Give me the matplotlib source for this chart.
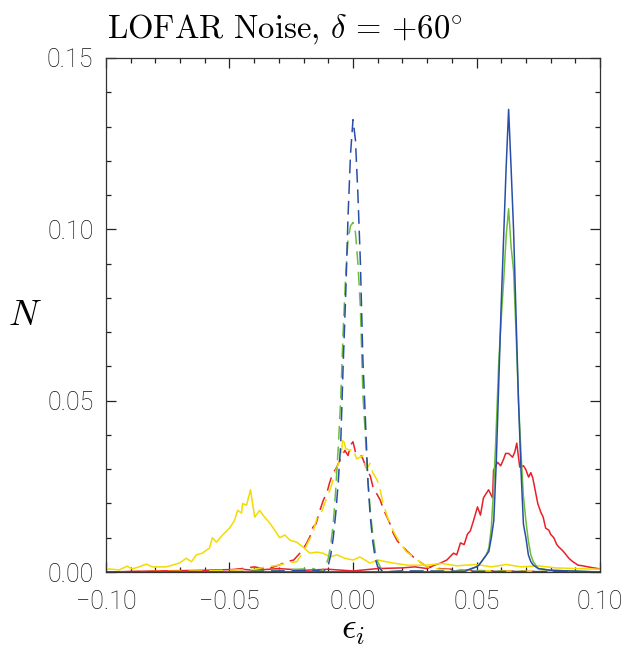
"""LOFAR noise histograms of epsilon_i at declination +60 deg"""
import matplotlib
matplotlib.use("Agg")
import matplotlib.pyplot as plt
from matplotlib.ticker import MultipleLocator, FuncFormatter

plt.rcParams['mathtext.fontset'] = 'cm'

# --- data ---
# red, solid: broad peak near +0.065
red_solid_x = [-0.100, -0.080, -0.060, -0.045, -0.040, -0.030, -0.020, -0.010, 0.000, 0.010,
               0.020, 0.025, 0.030, 0.033, 0.0354, 0.038, 0.0407, 0.042, 0.0435, 0.045,
               0.0463, 0.0475, 0.0488, 0.0504, 0.0516, 0.0528, 0.0540, 0.0549, 0.0565, 0.0569,
               0.0585, 0.0598, 0.061, 0.0618, 0.063, 0.0646, 0.0655, 0.0663, 0.0675, 0.069,
               0.0699, 0.0711, 0.072, 0.0728, 0.0748, 0.0760, 0.077, 0.0780, 0.0793, 0.080,
               0.0813, 0.0825, 0.0833, 0.0845, 0.0854, 0.0874, 0.089, 0.0911, 0.093, 0.0951,
               0.0975, 0.0992, 0.100]
red_solid_y = [0.000, 0.0003, 0.0005, 0.0008, 0.0005, 0.0010, 0.0005, 0.0008, 0.0003, 0.0010,
               0.0012, 0.0015, 0.0010, 0.0020, 0.0026, 0.0035, 0.0055, 0.0050, 0.0085, 0.0080,
               0.011, 0.012, 0.015, 0.019, 0.0166, 0.0216, 0.023, 0.024, 0.0216, 0.0297,
               0.032, 0.031, 0.033, 0.0346, 0.0346, 0.0335, 0.035, 0.0376, 0.0306, 0.031,
               0.030, 0.0277, 0.029, 0.0274, 0.020, 0.0175, 0.016, 0.0128, 0.0122, 0.011,
               0.010, 0.008, 0.0073, 0.0065, 0.0058, 0.004, 0.003, 0.002, 0.0018, 0.0015,
               0.0012, 0.001, 0.0008]

# red, dashed: broad peak at 0
red_dash_x = [-0.100, -0.070, -0.050, -0.045, -0.040, -0.035, -0.030, -0.027, -0.024, -0.0215,
              -0.020, -0.0187, -0.017, -0.0163, -0.015, -0.0134, -0.012, -0.0106, -0.0095, -0.0081,
              -0.007, -0.0053, -0.0043, -0.0033, -0.002, -0.001, 0.000, 0.001, 0.0028, 0.004,
              0.0057, 0.007, 0.0081, 0.0095, 0.011, 0.0125, 0.0138, 0.015, 0.0163, 0.018,
              0.0203, 0.022, 0.0244, 0.027, 0.030, 0.035, 0.040, 0.050, 0.070, 0.100]
red_dash_y = [0.000, 0.0003, 0.0005, 0.001, 0.0015, 0.0008, 0.002, 0.003, 0.0035, 0.0055,
              0.007, 0.0085, 0.011, 0.013, 0.014, 0.018, 0.021, 0.023, 0.026, 0.029,
              0.030, 0.0326, 0.034, 0.0355, 0.034, 0.037, 0.038, 0.035, 0.0347, 0.033,
              0.0297, 0.028, 0.0248, 0.023, 0.021, 0.018, 0.016, 0.014, 0.0113, 0.009,
              0.0073, 0.006, 0.0044, 0.003, 0.0015, 0.001, 0.0008, 0.0004, 0.0002, 0.000]

# yellow, dashed: broad peak at 0
yel_dash_x = [-0.100, -0.060, -0.040, -0.035, -0.030, -0.027, -0.025, -0.0228, -0.020, -0.018,
              -0.0165, -0.0146, -0.013, -0.0115, -0.0093, -0.008, -0.0065, -0.005, -0.004, -0.003,
              -0.0012, 0.000, 0.0015, 0.0028, 0.004, 0.0055, 0.0069, 0.008, 0.0098, 0.011,
              0.0122, 0.0135, 0.015, 0.017, 0.019, 0.0215, 0.0244, 0.027, 0.030, 0.035,
              0.045, 0.060, 0.100]
yel_dash_y = [0.000, 0.0003, 0.0008, 0.0015, 0.002, 0.0026, 0.0028, 0.003, 0.006, 0.009,
              0.011, 0.0157, 0.017, 0.020, 0.024, 0.027, 0.0306, 0.033, 0.0393, 0.036,
              0.0355, 0.036, 0.033, 0.0335, 0.034, 0.030, 0.0317, 0.029, 0.0268, 0.024,
              0.020, 0.017, 0.014, 0.011, 0.0085, 0.006, 0.0044, 0.003, 0.0015, 0.0008,
              0.0005, 0.0003, 0.000]

# yellow, solid: skewed peak near -0.042 with long tail
yel_solid_x = [-0.100, -0.0988, -0.0947, -0.0915, -0.0894, -0.0866, -0.0837, -0.0813, -0.0785, -0.0756,
               -0.0732, -0.0703, -0.0675, -0.0654, -0.0634, -0.061, -0.0581, -0.0569, -0.0553, -0.0528,
               -0.050, -0.048, -0.0467, -0.0451, -0.0447, -0.0431, -0.0415, -0.0398, -0.0378, -0.0358,
               -0.0337, -0.0317, -0.0297, -0.0276, -0.0256, -0.0228, -0.0203, -0.0175, -0.0146, -0.0122,
               -0.0093, -0.0065, -0.0033, 0.000, 0.0028, 0.0069, 0.010, 0.0163, 0.022, 0.030,
               0.036, 0.042, 0.050, 0.056, 0.062, 0.068, 0.075, 0.082, 0.090, 0.100]
yel_solid_y = [0.0006, 0.0009, 0.0006, 0.0017, 0.0009, 0.0015, 0.0023, 0.0015, 0.0015, 0.0015,
               0.002, 0.0026, 0.004, 0.003, 0.005, 0.0055, 0.007, 0.010, 0.0087, 0.0108,
               0.0128, 0.015, 0.018, 0.0172, 0.020, 0.0195, 0.024, 0.016, 0.018, 0.016,
               0.0143, 0.0122, 0.010, 0.0108, 0.0093, 0.0087, 0.0073, 0.0055, 0.0058, 0.0055,
               0.0044, 0.005, 0.004, 0.0035, 0.0044, 0.0026, 0.0035, 0.0026, 0.002, 0.002,
               0.0025, 0.0018, 0.0022, 0.0015, 0.0022, 0.0015, 0.0018, 0.0012, 0.0010, 0.0008]

# blue, dashed: narrow peak at 0
blue_dash_x = [-0.100, -0.050, -0.015, -0.012, -0.011, -0.010, -0.009, -0.008, -0.007, -0.006,
               -0.005, -0.004, -0.003, -0.002, -0.001, 0.000, 0.001, 0.002, 0.003, 0.004,
               0.005, 0.006, 0.007, 0.008, 0.009, 0.010, 0.011, 0.012, 0.020, 0.100]
blue_dash_y = [0.000, 0.000, 0.0005, 0.000, 0.001, 0.002, 0.005, 0.010, 0.017, 0.026,
               0.037, 0.060, 0.080, 0.104, 0.122, 0.132, 0.126, 0.110, 0.090, 0.062,
               0.045, 0.027, 0.016, 0.009, 0.004, 0.0015, 0.001, 0.000, 0.0003, 0.000]

# green, dashed: narrow peak at 0
green_dash_x = [-0.100, -0.050, -0.016, -0.013, -0.012, -0.011, -0.010, -0.009, -0.008, -0.007,
                -0.006, -0.005, -0.004, -0.003, -0.002, -0.001, 0.000, 0.001, 0.002, 0.003,
                0.004, 0.005, 0.006, 0.007, 0.008, 0.009, 0.010, 0.011, 0.012, 0.020, 0.100]
green_dash_y = [0.000, 0.000, 0.001, 0.000, 0.001, 0.002, 0.004, 0.008, 0.014, 0.024,
                0.036, 0.050, 0.070, 0.086, 0.097, 0.101, 0.102, 0.099, 0.090, 0.077,
                0.052, 0.040, 0.027, 0.018, 0.011, 0.006, 0.003, 0.0015, 0.000, 0.0003, 0.000]

# blue, solid: narrow peak near +0.063
blue_solid_x = [-0.100, 0.000, 0.045, 0.046, 0.048, 0.050, 0.051, 0.052, 0.053, 0.054,
                0.055, 0.056, 0.057, 0.058, 0.059, 0.060, 0.061, 0.062, 0.063, 0.064,
                0.065, 0.066, 0.067, 0.068, 0.069, 0.070, 0.071, 0.072, 0.073, 0.075,
                0.080, 0.100]
blue_solid_y = [0.000, 0.000, 0.000, 0.0005, 0.001, 0.0015, 0.002, 0.003, 0.004, 0.005,
                0.006, 0.010, 0.015, 0.032, 0.055, 0.078, 0.098, 0.118, 0.135, 0.118,
                0.100, 0.075, 0.050, 0.030, 0.014, 0.010, 0.005, 0.003, 0.002, 0.001,
                0.0005, 0.000]

# green, solid: narrow peak near +0.063
green_solid_x = [-0.100, 0.000, 0.045, 0.048, 0.050, 0.052, 0.053, 0.054, 0.055, 0.056,
                 0.057, 0.058, 0.059, 0.060, 0.061, 0.062, 0.063, 0.064, 0.065, 0.066,
                 0.067, 0.068, 0.069, 0.070, 0.071, 0.072, 0.073, 0.075, 0.080, 0.100]
green_solid_y = [0.000, 0.000, 0.000, 0.001, 0.0015, 0.003, 0.004, 0.005, 0.007, 0.013,
                 0.025, 0.042, 0.061, 0.074, 0.085, 0.098, 0.106, 0.095, 0.088, 0.070,
                 0.050, 0.035, 0.022, 0.015, 0.009, 0.005, 0.003, 0.001, 0.0005, 0.000]

RED = "#e8202a"
YELLOW = "#f2dc00"
GREEN = "#6cbd3c"
BLUE = "#2a4ea8"
DASH = (0, (9, 4.5))
LW = 1.1

fig = plt.figure(figsize=(6.44, 6.56), dpi=100)
ax = fig.add_axes([106 / 644, 1 - 572 / 656, 494 / 644, 514 / 656])

ax.plot(red_solid_x, red_solid_y, color=RED, lw=LW)
ax.plot(red_dash_x, red_dash_y, color=RED, lw=LW, linestyle=DASH)
ax.plot(yel_dash_x, yel_dash_y, color=YELLOW, lw=LW, linestyle=DASH)
ax.plot(yel_solid_x, yel_solid_y, color=YELLOW, lw=LW)
ax.plot(green_dash_x, green_dash_y, color=GREEN, lw=LW, linestyle=DASH)
ax.plot(green_solid_x, green_solid_y, color=GREEN, lw=LW)
ax.plot(blue_dash_x, blue_dash_y, color=BLUE, lw=LW, linestyle=DASH)
ax.plot(blue_solid_x, blue_solid_y, color=BLUE, lw=LW)


def fmt(v, pos):
    return f"{v:.2f}".replace("-", "\u2212")


ax.set_xlim(-0.10, 0.10)
ax.set_ylim(0.0, 0.15)
ax.xaxis.set_major_locator(MultipleLocator(0.05))
ax.xaxis.set_minor_locator(MultipleLocator(0.01))
ax.yaxis.set_major_locator(MultipleLocator(0.05))
ax.yaxis.set_minor_locator(MultipleLocator(0.01))
ax.xaxis.set_major_formatter(FuncFormatter(fmt))
ax.yaxis.set_major_formatter(FuncFormatter(fmt))
ax.tick_params(which='both', direction='in', top=True, right=True, color='#222222', width=0.9)
ax.tick_params(which='major', length=7, pad=9)
ax.tick_params(which='minor', length=3.5)
for lab in ax.get_xticklabels() + ax.get_yticklabels():
    lab.set_family(['Roboto', 'DejaVu Sans'])
    lab.set_fontweight('light')
    lab.set_fontsize(18)
    lab.set_color('#111111')
ax.xaxis.set_tick_params(pad=13)
for sp in ax.spines.values():
    sp.set_linewidth(0.9)
    sp.set_color('#333333')

fig.text(25 / 644, 1 - 315 / 656, r'$N$', fontsize=26, ha='center', va='center')
fig.text(353 / 644, 1 - 630 / 656, r'$\epsilon_i$', fontsize=26, ha='center', va='center')
fig.text(107 / 644, 1 - 38 / 656, r'LOFAR Noise, $\delta\,=\,{+}60^{\circ}$',
         fontsize=23.5, family='cmr10', ha='left', va='baseline')

fig.savefig('out.png', dpi=100)
